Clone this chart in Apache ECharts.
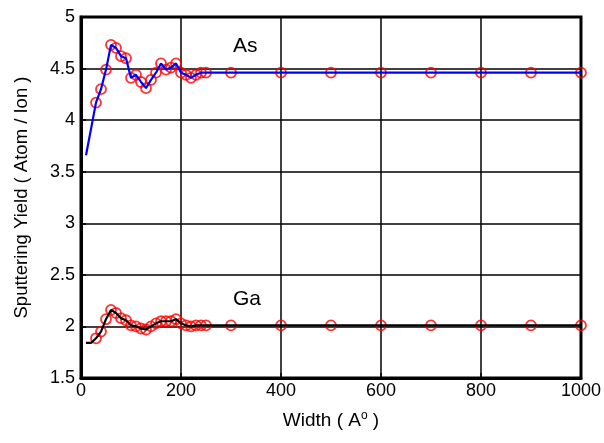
<!DOCTYPE html>
<html>
<head>
<meta charset="utf-8">
<script src="https://cdn.jsdelivr.net/npm/echarts@6/dist/echarts.min.js"></script>
<style>
  html, body { margin: 0; padding: 0; background: #fff; }
  #main { width: 604px; height: 443px; }
</style>
</head>
<body>
<div id="main"></div>
<script>
// widths (A) where the curves are sampled
var asLineX = [10, 30, 40, 50, 60, 70, 80, 90, 100, 110, 120, 130, 140, 150, 160, 170, 180, 190, 200, 210, 220, 230, 240, 250, 300, 400, 500, 600, 700, 800, 900, 1000];
var asLineY = [3.66, 4.17, 4.30, 4.49, 4.73, 4.70, 4.62, 4.60, 4.41, 4.44, 4.37, 4.31, 4.39, 4.46, 4.55, 4.49, 4.51, 4.55, 4.46, 4.44, 4.41, 4.44, 4.46, 4.46, 4.46, 4.46, 4.46, 4.46, 4.46, 4.46, 4.46, 4.46];

var gaLineX = [10, 20, 30, 40, 50, 60, 70, 80, 90, 100, 110, 120, 130, 140, 150, 160, 170, 180, 190, 200, 210, 220, 230, 240, 250, 300, 400, 500, 600, 700, 800, 900, 1000];
var gaLineY = [1.84, 1.84, 1.885, 1.95, 2.07, 2.16, 2.13, 2.08, 2.06, 2.01, 2.00, 1.98, 1.97, 2.00, 2.03, 2.05, 2.05, 2.05, 2.07, 2.03, 2.01, 2.00, 2.01, 2.01, 2.01, 2.01, 2.01, 2.01, 2.01, 2.01, 2.01, 2.01, 2.01];

// simulated points (red circles)
var asDotX = asLineX.slice(1);
var asDotY = asLineY.slice(1);
var gaDotX = gaLineX.slice(2);
var gaDotY = gaLineY.slice(2);

var xTicks = [0, 200, 400, 600, 800, 1000];
var yTicks = [1.5, 2, 2.5, 3, 3.5, 4, 4.5, 5];

function pairs(xs, ys) {
    return xs.map(function (x, i) { return [x, ys[i]]; });
}

var chart = echarts.init(document.getElementById('main'));
var font = 'Arial, "Liberation Sans", sans-serif';

var dotStyle = {
    type: 'scatter',
    symbol: 'circle',
    symbolSize: 10,
    itemStyle: { color: 'transparent', borderColor: '#ff0000', borderWidth: 1.8 },
    z: 2
};

var option = {
    animation: false,
    backgroundColor: '#fff',
    grid: {
        left: 81, right: 21, top: 17, bottom: 65,
        show: true, borderColor: '#000', borderWidth: 3
    },
    xAxis: {
        type: 'value',
        min: xTicks[0], max: xTicks[xTicks.length - 1], interval: 200,
        name: 'Width ( A{sup|o} )',
        nameLocation: 'middle', nameGap: 32,
        nameTextStyle: {
            fontFamily: font, fontSize: 19, color: '#000',
            rich: { sup: { fontFamily: font, fontSize: 12, verticalAlign: 'top', padding: [0, 0, 10, 0] } }
        },
        axisLine: { show: true, lineStyle: { color: '#000', width: 3 } },
        axisTick: { show: true, inside: true, length: 5, lineStyle: { color: '#000', width: 1.5 } },
        axisLabel: { fontFamily: font, fontSize: 18, color: '#000', margin: 4, formatter: function (v) { return String(v); } },
        splitLine: { show: true, lineStyle: { color: '#000', width: 1.5 } }
    },
    yAxis: {
        type: 'value',
        min: yTicks[0], max: yTicks[yTicks.length - 1], interval: 0.5,
        name: 'Sputtering Yield ( Atom / Ion )',
        nameLocation: 'middle', nameGap: 50,
        nameTextStyle: { fontFamily: font, fontSize: 18.5, color: '#000' },
        axisLine: { show: true, lineStyle: { color: '#000', width: 3 } },
        axisTick: { show: true, inside: true, length: 5, lineStyle: { color: '#000', width: 1.5 } },
        axisLabel: { fontFamily: font, fontSize: 18, color: '#000', margin: 6 },
        splitLine: { show: true, lineStyle: { color: '#000', width: 1.5 } }
    },
    graphic: [
        { type: 'text', left: 233, top: 36, style: { text: 'As', font: '21px ' + font, fill: '#000' } },
        { type: 'text', left: 233, top: 289, style: { text: 'Ga', font: '21px ' + font, fill: '#000' } }
    ],
    series: [
        Object.assign({ name: 'As sim', data: pairs(asDotX, asDotY) }, dotStyle),
        Object.assign({ name: 'Ga sim', data: pairs(gaDotX, gaDotY) }, dotStyle),
        {
            name: 'As', type: 'line', data: pairs(asLineX, asLineY),
            showSymbol: false, lineStyle: { color: '#0000ff', width: 2.2 }, z: 3
        },
        {
            name: 'Ga', type: 'line', data: pairs(gaLineX, gaLineY),
            showSymbol: false, lineStyle: { color: '#000', width: 2.2 }, z: 3
        }
    ]
};

chart.setOption(option);
</script>
</body>
</html>
